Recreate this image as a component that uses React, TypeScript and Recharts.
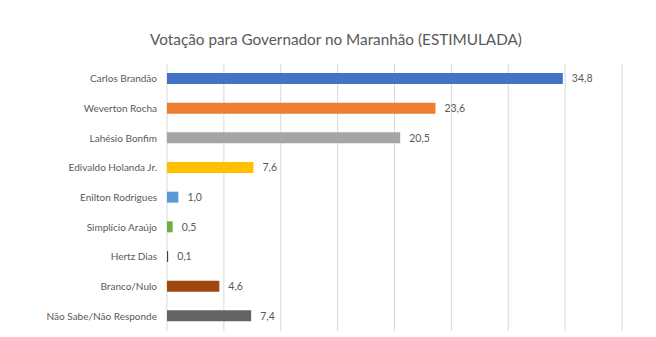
import React from "react";
import { BarChart, Bar, XAxis, YAxis, CartesianGrid, Cell, LabelList } from "recharts";

const categories = [
  "Carlos Brandão",
  "Weverton Rocha",
  "Lahésio Bonfim",
  "Edivaldo Holanda Jr.",
  "Enilton Rodrigues",
  "Simplício Araújo",
  "Hertz Dias",
  "Branco/Nulo",
  "Não Sabe/Não Responde",
];
const values = [34.8, 23.6, 20.5, 7.6, 1.0, 0.5, 0.1, 4.6, 7.4];
const colors = ["#4472C4", "#ED7D31", "#A5A5A5", "#FFC000", "#5B9BD5", "#70AD47", "#264478", "#9E480E", "#636363"];
const xTicks = [0, 5, 10, 15, 20, 25, 30, 35, 40];
const title = "Votação para Governador no Maranhão (ESTIMULADA)";

const data = categories.map((name, i) => ({ name, value: values[i] }));
const FONT = "Lato, 'Liberation Sans', Arial, sans-serif";

export default function App() {
  return (
    <div style={{ position: "absolute", left: 0, top: 0, width: 656, height: 337, background: "#fff", fontFamily: FONT }}>
      <div
        style={{
          position: "absolute",
          left: 0,
          width: 672,
          top: 30,
          textAlign: "center",
          fontSize: 15.3,
          color: "#595959",
          fontFamily: FONT,
        }}
      >
        {title}
      </div>
      <BarChart
        width={656}
        height={337}
        data={data}
        layout="vertical"
        margin={{ top: 64, right: 34, bottom: 6, left: 0 }}
      >
        <CartesianGrid horizontal={false} vertical={true} stroke="#D9D9D9" strokeWidth={1} />
        <XAxis type="number" domain={[0, 40]} ticks={xTicks} hide />
        <YAxis
          type="category"
          dataKey="name"
          width={167}
          axisLine={false}
          tickLine={false}
          tickSize={0}
          tickMargin={10}
          interval={0}
          tick={{ fill: "#595959", fontSize: 10, fontFamily: FONT }}
        />
        <Bar dataKey="value" barSize={11} isAnimationActive={false}>
          {data.map((d, i) => (
            <Cell key={d.name} fill={colors[i]} />
          ))}
          <LabelList
            dataKey="value"
            position="right"
            offset={9}
            fill="#595959"
            fontSize={10.5}
            fontFamily={FONT}
            formatter={(v: any) => Number(v).toFixed(1).replace(".", ",")}
          />
        </Bar>
      </BarChart>
    </div>
  );
}
